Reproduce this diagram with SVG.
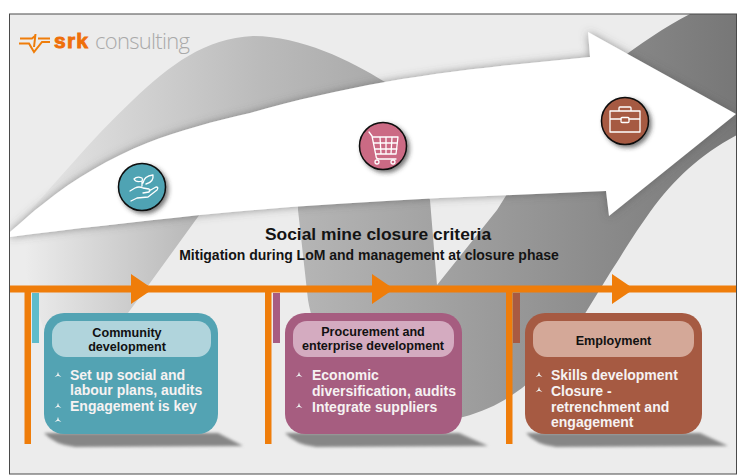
<svg xmlns="http://www.w3.org/2000/svg" xmlns:xlink="http://www.w3.org/1999/xlink" width="743" height="475" viewBox="0 0 743 475">
<style>
text{font-family:"Liberation Sans",Arial,sans-serif}
.t1{font-weight:700;font-size:17.4px;fill:#141414;text-anchor:middle}
.t2{font-weight:700;font-size:14px;fill:#141414;text-anchor:middle}
.h{font-weight:700;font-size:12.6px;fill:#111;text-anchor:middle}
.b{font-weight:700;font-size:14px;fill:#f6f2f2}
.o{fill:#ef7d0a}
.ic{fill:none;stroke:#fff;stroke-width:1.3;stroke-linecap:round;stroke-linejoin:round}
.bul{fill:#eef2f2}
.sh{fill:#868686;filter:url(#blur2)}
</style>
<defs>
<linearGradient id="swoosh" gradientUnits="userSpaceOnUse" x1="10" y1="0" x2="736" y2="0">
<stop offset="0" stop-color="#ececec"/><stop offset=".1" stop-color="#dcdcdc"/><stop offset=".35" stop-color="#bababa"/><stop offset=".55" stop-color="#a6a6a6"/><stop offset=".75" stop-color="#929292"/><stop offset="1" stop-color="#777"/>
</linearGradient>
<linearGradient id="low" gradientUnits="userSpaceOnUse" x1="25" y1="0" x2="195" y2="0">
<stop offset="0" stop-color="#ececec"/><stop offset="1" stop-color="#b8b8b8"/>
</linearGradient>
<filter id="blur2" x="-20%" y="-60%" width="140%" height="220%"><feGaussianBlur stdDeviation="1.5"/></filter>
<filter id="glow" x="-5%" y="-10%" width="110%" height="120%"><feDropShadow dx="0" dy="0" stdDeviation="4" flood-color="#555" flood-opacity=".6"/></filter>
<filter id="cs" x="-30%" y="-30%" width="170%" height="170%"><feDropShadow dx="2.5" dy="2.5" stdDeviation="2" flood-color="#333" flood-opacity=".65"/></filter>
<clipPath id="frame"><rect x="10" y="14" width="726" height="460"/></clipPath>
<path id="bullet" class="bul" d="M0,-3.2 L.9,-.2 L3.4,2 L.4,1 L-.4,1 L-3.4,2 L-.9,-.2Z"/>
</defs>

<rect x="0" y="0" width="743" height="475" fill="#fff"/>
<rect x="9.5" y="14" width="727" height="460" fill="#ececec"/>

<g id="background" clip-path="url(#frame)">
<path fill="url(#low)" d="M10,237 L200,214 L150,283 L128,313 L120,330 L44,330 L25,270Z"/>
<path fill="url(#swoosh)" d="M10,233 C50,190 90,140 133,100 C170,65 205,38 253,36 C300,36 350,60 385,82 L430,200 L437,285 L497,210 L560,110 C585,85 640,40 690,14 L737,14 L737,135 C700,155 675,178 650,212 C630,240 620,258 610,273 L586,312 C565,345 530,400 463,417 C380,440 320,370 308,300 L298,210 L298,150Z"/>
<path fill="#fff" filter="url(#glow)" d="M10,232 C22,222 32,212 43,204 C75,178 110,158 147,143 C180,130 215,121 250,113 C295,100 340,90 385,82 C430,74 480,68 520,64 L590,57 L588,32 L736,114 L609,216 L606,191 L440,198 C360,202 280,207 200,215 C135,222 70,229 10,237Z"/>
</g>

<rect id="frame-line" x="9.5" y="14" width="727" height="460" fill="none" stroke="#4a4a4a" stroke-width="1"/>

<g id="logo">
<path d="M20,38.500 H32 L35,36 M19,43.500 H29 L34,52 L42,42 H50 M38,38.500 H50 M35.500,34 L34,47" fill="none" stroke="#ef7d0a" stroke-width="2"/>
<text x="54" y="48" font-size="21" font-weight="700" fill="#ef6f0a" stroke="#ef6f0a" stroke-width=".9" textLength="34">srk</text>
<text x="95" y="49" font-size="22" fill="#a9a9a9" style="font-family:'Open Sans','Liberation Sans',sans-serif;font-weight:300" textLength="95">consulting</text>
</g>

<g id="title">
<text class="t1" x="378" y="240">Social mine closure criteria</text>
<text class="t2" x="369" y="260">Mitigation during LoM and management at closure phase</text>
</g>

<g id="connectors">
<path class="o" d="M10,285.500 H736 V292.500 H10Z"/>
<path class="o" d="M131,274 L153,289 L131,304Z M372,274 L394,289 L372,304Z M612,274 L634,289 L612,304Z"/>
<path class="o" d="M24.500,292 H31 V444 H24.500Z M265,292 H271.500 V444 H265Z M506,292 H512.500 V444 H506Z"/>
</g>

<g id="icon-community">
<circle cx="142" cy="187" r="23.500" fill="#4fa3b3" stroke="#0c0c0c" stroke-width="1.500" filter="url(#cs)"/>
<path class="ic" d="M130,191 L135,188 Q139,186 143,188 L149,189 Q151,190 149,192 L143,193 M149,191 L156,187 Q159,187 157,190 L148,197 L137,198 L131,201 M142,186 V181 M142,181 Q136,183 134,179 Q137,176 142,178 Q143,180 142,181 M143,183 Q144,176 153,175 Q154,182 146,184"/>
</g>
<g id="icon-procurement">
<circle cx="383" cy="146" r="23.500" fill="#cb6a84" stroke="#0c0c0c" stroke-width="1.500" filter="url(#cs)"/>
<path class="ic" d="M369,132 L372,136 L376,156 Q376,159 379,159 H396 M373,137 H398 L396,154 H376 M374,143 H397 M375,149 H397 M380,137 L381,154 M386,137 V154 M392,137 L391,154"/>
<circle class="ic" cx="377" cy="162" r="2"/><circle class="ic" cx="393" cy="162" r="2"/>
</g>
<g id="icon-employment">
<circle cx="625" cy="121" r="23.500" fill="#a65a42" stroke="#0c0c0c" stroke-width="1.500" filter="url(#cs)"/>
<path class="ic" d="M610,111 H640 V132 H610Z M610,119 H621 M629,119 H640 M619,111 V108 Q619,107 620,107 H630 Q631,107 631,108 V111"/>
<rect class="ic" x="621" y="117.500" width="8" height="5" rx="1"/>
</g>

<g id="node-community">
<rect x="32" y="293" width="7" height="50" fill="#5fbccb"/>
<path class="sh" d="M44,433 L218,433 L243,446 L75,447 Q55,445 44,433Z"/>
<rect x="44" y="313" width="174" height="121" rx="20" fill="#53a3b3"/>
<rect x="52" y="321" width="159" height="36" rx="14" fill="#b0d4dc"/>
<text class="h" x="127" y="337">Community</text>
<text class="h" x="127" y="351">development</text>
<use xlink:href="#bullet" href="#bullet" x="58" y="375"/><use xlink:href="#bullet" href="#bullet" x="58" y="406"/><use xlink:href="#bullet" href="#bullet" x="58" y="420"/>
<text class="b" x="70" y="380">Set up social and</text>
<text class="b" x="70" y="395">labour plans, audits</text>
<text class="b" x="70" y="411">Engagement is key</text>
</g>

<g id="node-procurement">
<rect x="273" y="293" width="7" height="50" fill="#a85c82"/>
<path class="sh" d="M285,433 L459,433 L488,446 L316,447 Q296,445 285,433Z"/>
<rect x="285" y="313" width="177" height="121" rx="20" fill="#a65d80"/>
<rect x="293" y="321" width="161" height="36" rx="14" fill="#d4abc0"/>
<text class="h" x="373" y="336">Procurement and</text>
<text class="h" x="373" y="350">enterprise development</text>
<use xlink:href="#bullet" href="#bullet" x="299" y="375"/><use xlink:href="#bullet" href="#bullet" x="299" y="406"/>
<text class="b" x="312" y="380">Economic</text>
<text class="b" x="312" y="396">diversification, audits</text>
<text class="b" x="312" y="412">Integrate suppliers</text>
</g>

<g id="node-employment">
<rect x="513" y="293" width="7" height="50" fill="#a85a42"/>
<path class="sh" d="M526,433 L700,433 L728,446 L556,447 Q536,445 526,433Z"/>
<rect x="525" y="313" width="177" height="121" rx="20" fill="#a65a42"/>
<rect x="533" y="321" width="161" height="36" rx="14" fill="#d4a898"/>
<text class="h" x="613.500" y="345">Employment</text>
<use xlink:href="#bullet" href="#bullet" x="539" y="375"/><use xlink:href="#bullet" href="#bullet" x="539" y="390"/>
<text class="b" x="551" y="380">Skills development</text>
<text class="b" x="551" y="396">Closure -</text>
<text class="b" x="551" y="412">retrenchment and</text>
<text class="b" x="551" y="427">engagement</text>
</g>
</svg>
